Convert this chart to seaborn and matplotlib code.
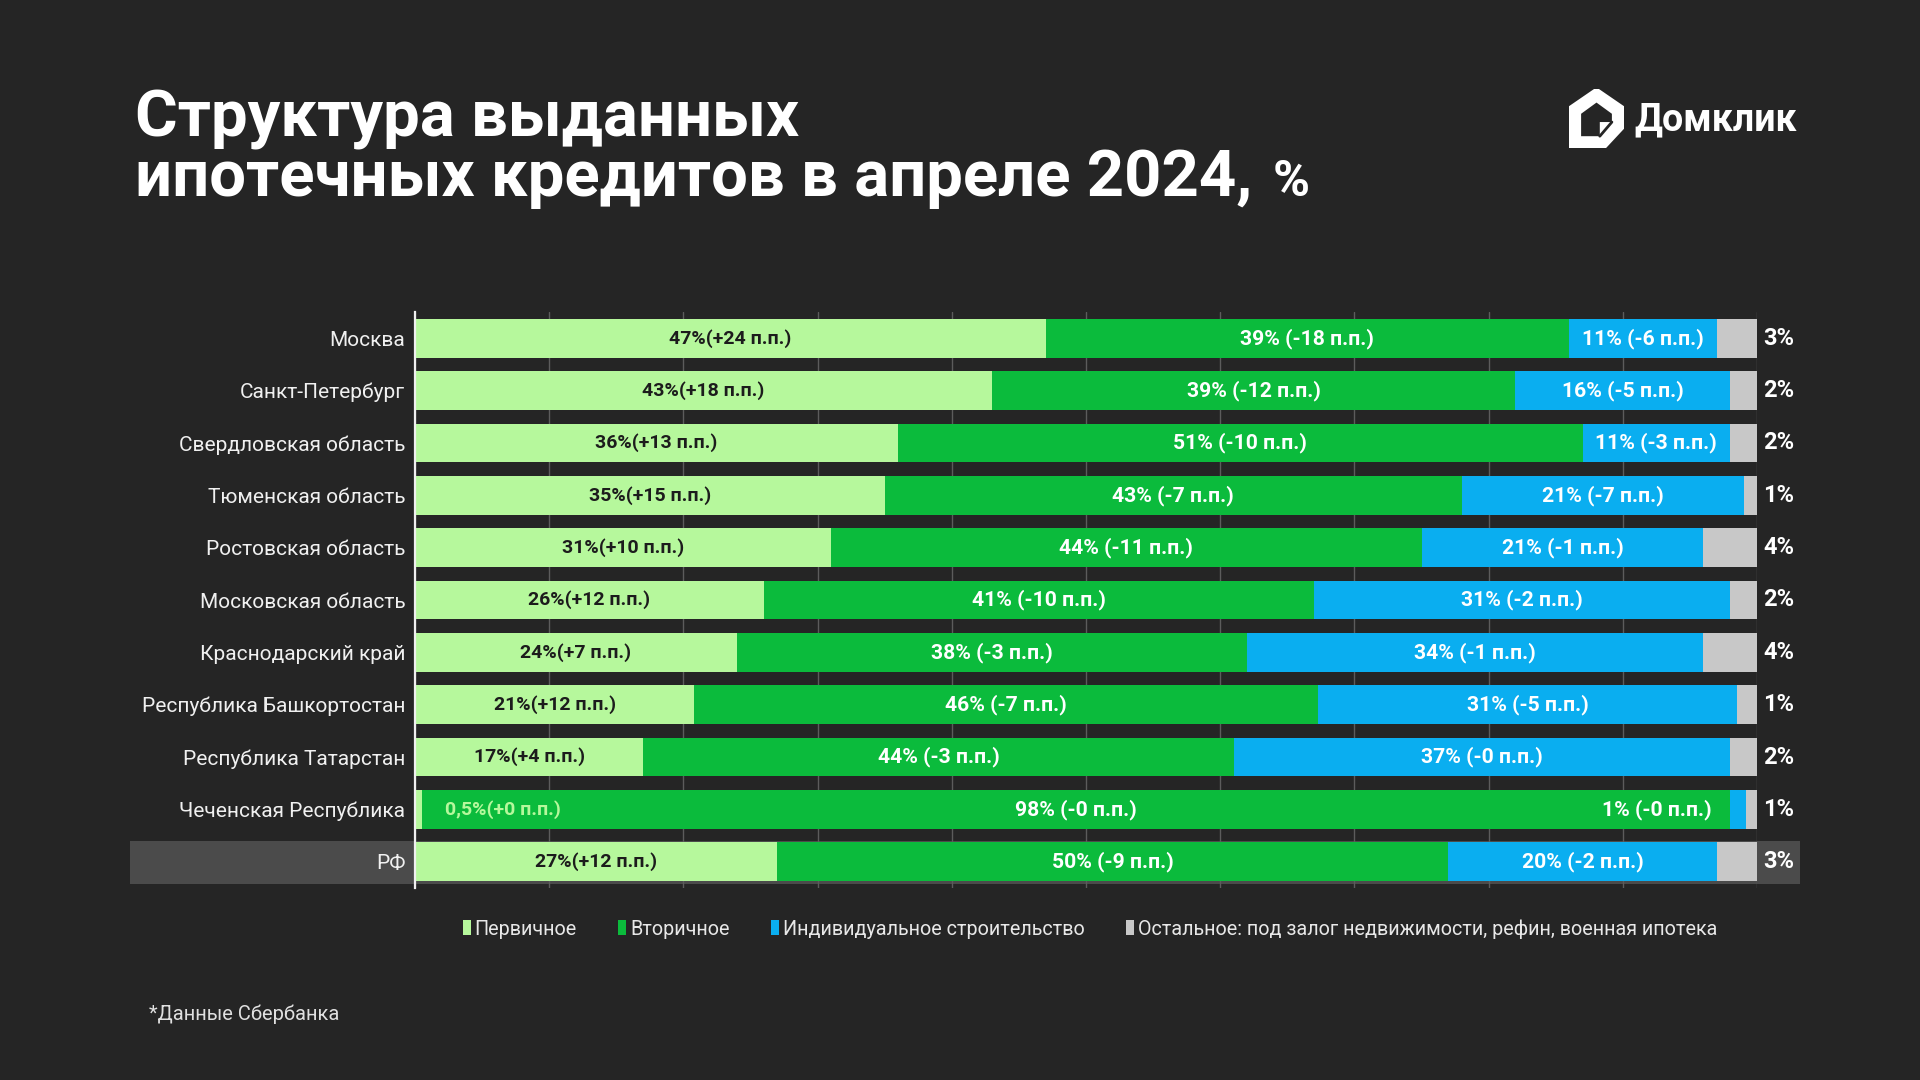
import matplotlib
matplotlib.use("Agg")
import matplotlib.pyplot as plt
import seaborn as sns
import pandas as pd
from matplotlib.patches import Patch, Polygon

# ---------------- data ----------------
regions = ["Москва", "Санкт-Петербург", "Свердловская область", "Тюменская область",
           "Ростовская область", "Московская область", "Краснодарский край",
           "Республика Башкортостан", "Республика Татарстан", "Чеченская Республика", "РФ"]

primary = [47, 43, 36, 35, 31, 26, 24, 20.8, 17, 0.5, 27]
secondary = [39, 39, 51, 43, 44, 41, 38, 46.5, 44, 97.5, 50]
individual = [11, 16, 11, 21, 21, 31, 34, 31.2, 37, 1.2, 20]
other = [3, 2, 2, 1, 4, 2, 4, 1.5, 2, 0.8, 3]

primary_lbl = ["47%(+24 п.п.)", "43%(+18 п.п.)", "36%(+13 п.п.)", "35%(+15 п.п.)", "31%(+10 п.п.)",
               "26%(+12 п.п.)", "24%(+7 п.п.)", "21%(+12 п.п.)", "17%(+4 п.п.)", "0,5%(+0 п.п.)",
               "27%(+12 п.п.)"]
secondary_lbl = ["39% (-18 п.п.)", "39% (-12 п.п.)", "51% (-10 п.п.)", "43% (-7 п.п.)", "44% (-11 п.п.)",
                 "41% (-10 п.п.)", "38% (-3 п.п.)", "46% (-7 п.п.)", "44% (-3 п.п.)", "98% (-0 п.п.)",
                 "50% (-9 п.п.)"]
individual_lbl = ["11% (-6 п.п.)", "16% (-5 п.п.)", "11% (-3 п.п.)", "21% (-7 п.п.)", "21% (-1 п.п.)",
                  "31% (-2 п.п.)", "34% (-1 п.п.)", "31% (-5 п.п.)", "37% (-0 п.п.)", "1% (-0 п.п.)",
                  "20% (-2 п.п.)"]
other_lbl = ["3%", "2%", "2%", "1%", "4%", "2%", "4%", "1%", "2%", "1%", "3%"]

legend_labels = ["Первичное", "Вторичное", "Индивидуальное строительство",
                 "Остальное: под залог недвижимости, рефин, военная ипотека"]

# ---------------- style ----------------
BG = "#252525"
C_PRIM = "#b6f89c"
C_SEC = "#0bbb3c"
C_IND = "#0aaef0"
C_OTH = "#c8c8c8"
HILITE = "#4b4b4b"

sns.set_theme(style="white")
plt.rcParams['font.family'] = ['Roboto', 'DejaVu Sans']

df = pd.DataFrame({"region": regions, "p": primary, "s": secondary, "i": individual, "o": other})
df["c1"] = df["p"]
df["c2"] = df["c1"] + df["s"]
df["c3"] = df["c2"] + df["i"]
df["c4"] = df["c3"] + df["o"]

fig = plt.figure(figsize=(19.2, 10.8), dpi=100, facecolor=BG)
ax = fig.add_axes([415 / 1920, 1 - 888 / 1080, (1757 - 415) / 1920, 576 / 1080])
ax.set_facecolor(BG)

# highlight row for РФ
ax.axhspan(9.6, 10.42, xmin=-0.212, xmax=1.032, color=HILITE, clip_on=False, zorder=0, lw=0)

for col, colr in [("c4", C_OTH), ("c3", C_IND), ("c2", C_SEC), ("c1", C_PRIM)]:
    sns.barplot(data=df, x=col, y="region", orient="h", color=colr, saturation=1,
                width=0.74, errorbar=None, ax=ax, linewidth=0, zorder=2)

ax.set_xlim(0, 100)
ax.set_ylim(10.5, -0.5)
ax.set_xticks(range(0, 101, 10))
ax.xaxis.grid(True, color="#5c5c5c", lw=1)
ax.yaxis.grid(False)
ax.set_axisbelow(True)
ax.tick_params(axis="x", length=0, labelbottom=False)
ax.tick_params(axis="y", length=0, pad=7, labelsize=15, labelcolor="#f0f0f0")
ax.set_xlabel("")
ax.set_ylabel("")
for s in ["top", "right", "bottom"]:
    ax.spines[s].set_visible(False)
ax.spines["left"].set_color("#f0f0f0")
ax.spines["left"].set_linewidth(1.6)
ax.spines["left"].set_zorder(5)

# ---------------- labels ----------------
FS_P = 14
FS_S = 15.2
for k, row in df.iterrows():
    y = k
    if row["region"] == "Чеченская Республика":
        ax.text(row["c1"] + 1.7, y, primary_lbl[k], ha="left", va="center", fontsize=FS_P,
                fontweight="bold", color=C_PRIM, zorder=6)
        ax.text(row["c2"] - 1.4, y, individual_lbl[k], ha="right", va="center", fontsize=FS_S,
                fontweight="bold", color="white", zorder=6)
    else:
        ax.text(row["c1"] / 2, y, primary_lbl[k], ha="center", va="center", fontsize=FS_P,
                fontweight="bold", color="#1c1c1c", zorder=6)
        ax.text((row["c2"] + row["c3"]) / 2, y, individual_lbl[k], ha="center", va="center",
                fontsize=FS_S, fontweight="bold", color="white", zorder=6)
    ax.text((row["c1"] + row["c2"]) / 2, y, secondary_lbl[k], ha="center", va="center",
            fontsize=FS_S, fontweight="bold", color="white", zorder=6)
    ax.text(101.6, y, other_lbl[k], ha="center", va="center", fontsize=17,
            fontweight="bold", color="white", zorder=6, clip_on=False)

# ---------------- legend ----------------
handles = [Patch(facecolor=c, edgecolor="none") for c in [C_PRIM, C_SEC, C_IND, C_OTH]]
fig.legend(handles, legend_labels, loc="center", bbox_to_anchor=(1090 / 1920, 1 - 929 / 1080),
           ncol=4, frameon=False, fontsize=14.2, labelcolor="#e8e8e8", handlelength=0.4,
           handleheight=0.8, handletextpad=0.2, columnspacing=2.1)

# ---------------- title ----------------
fig.text(135 / 1920, 1 - 137 / 1080, "Структура выданных", ha="left", va="baseline",
         fontsize=47, fontweight="bold", color="white")
t2 = fig.text(135 / 1920, 1 - 196 / 1080, "ипотечных кредитов в апреле 2024,", ha="left",
              va="baseline", fontsize=47, fontweight="bold", color="white")
fig.canvas.draw()
bb = t2.get_window_extent(renderer=fig.canvas.get_renderer())
fig.text((bb.x1 + 20) / 1920, 1 - 196 / 1080, "%", ha="left", va="baseline",
         fontsize=36, fontweight="bold", color="white")

# footnote
fig.text(149 / 1920, 1 - 1014 / 1080, "*Данные Сбербанка", ha="left", va="center",
         fontsize=14.5, color="#e0e0e0")

# ---------------- logo ----------------
fig.text(1634 / 1920, 1 - 120 / 1080, "Домклик", ha="left", va="center",
         fontsize=27, fontweight="bold", color="white")
lax = fig.add_axes([1569 / 1920, 1 - 148 / 1080, 55 / 1920, 59 / 1080])
lax.set_xlim(0, 1)
lax.set_ylim(0, 1)
lax.axis("off")
outer = [(0, 0), (0, 0.68), (0.5, 1.0), (1, 0.68), (1, 0.36), (0.64, 0)]
inner = [(0.22, 0.2), (0.22, 0.58), (0.5, 0.77), (0.78, 0.58), (0.78, 0.44),
         (0.56, 0.44), (0.56, 0.2)]
lax.add_patch(Polygon(outer, closed=True, facecolor="white", edgecolor="white", lw=2,
                      joinstyle="round"))
lax.add_patch(Polygon(inner, closed=True, facecolor=BG, edgecolor=BG, lw=0))
lax.plot([0.56, 0.78], [0.2, 0.44], color=BG, lw=2)

fig.savefig("out.png", dpi=100, facecolor=BG)
